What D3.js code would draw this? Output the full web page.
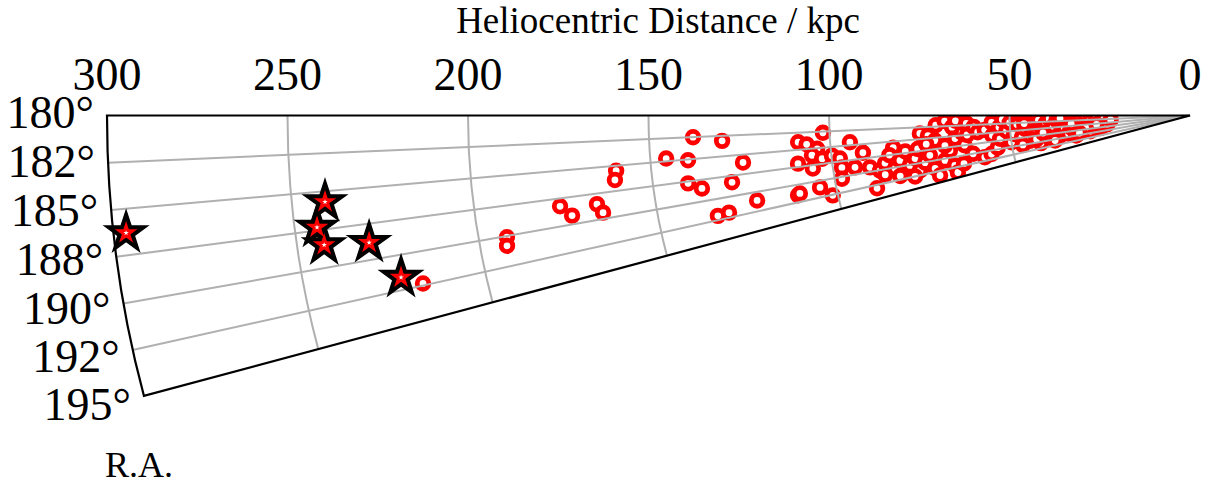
<!DOCTYPE html>
<html><head><meta charset="utf-8">
<script src="https://cdn.jsdelivr.net/npm/d3@7"></script>
<style>body{margin:0;background:#fff}svg{display:block}</style>
</head><body><svg id="c" width="1217" height="486"></svg>
<script>
// ---- data ----
const distTicks = [0, 50, 100, 150, 200, 250, 300];
const distTickLabels = ["0", "50", "100", "150", "200", "250", "300"];
const raTicks = [180, 182.5, 185, 187.5, 190, 192.5, 195];
const raTickLabels = ["180°", "182°", "185°", "188°", "190°", "192°", "195°"];
const distGrid = [50, 100, 150, 200, 250];
const raGrid = [182.5, 185, 187.5, 190, 192.5];

// red open circles: heliocentric distance (kpc) and R.A. (deg)
const circleDist = [217.5,192.2,192.6,176.3,173.4,166.1,164.8,159.7,160.3,137.8,129.8,145.6,139.6,124.5,140.3,136.7,128.2,122.2,133.7,130.5,
  108.8,109.4,110.8,101.8,103.7,105.3,105.5,102.6,99.8,97.7,94.5,91.2,97.5,93.9,89.8,98.0,110.2,104.4,101.4,89.0,82.7,106.5,
  87.2,85.5,83.0,81.3,80.5,78.8,77.1,76.3,74.5,72.9,72.1,71.2,69.0,67.2,66.6,66.2,75.0,72.8,71.0,68.4,65.4,63.3,61.6,
  84.0,79.5,82.0,78.0,86.0,76.0,73.5,70.5,68.0,66.0,
  65,64,63,62,62,61,60,59,58,57,56,55,55,54,53,53,52,51,
  50,50,49,48,48,47,46,45,45,44,44,43,42,42,41,40,40,39,39,38,37,37,36,
  35,35,34,34,33,32,32,31,30,30,29,28,28,27,26,25,25,24,23,22,
  47,43,38,33,29,26,46,41,36,31];
const circleRA = [192.35,190.1,190.8,188.2,189.2,188.5,189.4,185.5,186.4,182.5,183.1,184.7,185.1,186.0,187.7,188.5,188.3,191.1,192.0,191.9,
  183.9,187.0,191.5,182.7,185.1,186.0,188.0,186.7,186.4,187.0,184.5,186.5,188.5,188.8,189.2,190.3,191.3,191.0,192.6,193.1,186.2,184.3,
  190.1,188.9,190.2,188.8,191.3,190.1,188.9,191.5,190.1,188.7,191.7,193.5,190.4,188.3,192.0,193.8,183.8,184.4,185.6,187.0,185.6,184.3,183.4,
  187.5,187.2,191.8,192.5,191.0,187.0,186.2,182.2,181.3,182.8,
  181.3,192.0,187.5,182.0,185.0,190.0,183.0,184.5,191.5,184.0,191.0,182.0,185.8,189.5,187.0,183.5,181.2,184.8,
  188.5,182.3,186.0,181.5,183.0,187.5,184.5,182.0,189.0,183.5,185.8,187.0,181.8,190.5,185.0,183.0,188.2,181.3,186.3,184.5,182.0,189.5,187.0,
  183.0,185.5,181.5,188.5,186.0,190.0,184.0,182.8,185.0,187.5,181.8,183.5,189.0,186.5,181.5,188.0,184.5,182.5,186.0,183.0,
  190.0,188.8,190.5,184.0,186.5,185.5,182.8,186.8,181.2,189.0];

// star-marked objects
const starDist = [296.5, 240.8, 243.8, 242.5, 230.1, 223.1];
const starRA = [186.3, 185.7, 187.3, 188.5, 188.8, 191.6];

// ---- layout ----
const FONT = '"Liberation Serif", "DejaVu Serif", "Noto Serif", "Times New Roman", serif';
const svg = d3.select("#c");
const ox = 1190, oy = 115.5;
const rScale = d3.scaleLinear().domain([0, 300]).range([0, 1083]);
const aScale = d3.scaleLinear().domain([180, 195]).range([0, 15 * Math.PI / 180]);
const px = (d, ra) => ox - rScale(d) * Math.cos(aScale(ra));
const py = (d, ra) => oy + rScale(d) * Math.sin(aScale(ra));

function arcPath(R) {
  const p = d3.path();
  p.moveTo(ox - R, oy);
  p.arc(ox, oy, R, Math.PI, Math.PI - aScale(195), true);
  return p.toString();
}
function wedgePath() {
  const R = rScale(300);
  const p = d3.path();
  p.moveTo(ox, oy);
  p.lineTo(ox - R, oy);
  p.arc(ox, oy, R, Math.PI, Math.PI - aScale(195), true);
  p.closePath();
  return p.toString();
}

svg.append("clipPath").attr("id", "wedge").append("path").attr("d", wedgePath());

// circles
const pts = circleDist.map((d, i) => ({d, ra: circleRA[i]}));
svg.append("g").attr("clip-path", "url(#wedge)")
  .selectAll("circle").data(pts).join("circle")
  .attr("cx", p => px(p.d, p.ra)).attr("cy", p => py(p.d, p.ra))
  .attr("r", 5.8).attr("fill", "#fff").attr("stroke", "#ff0000").attr("stroke-width", 4.8);

// grid
const grid = svg.append("g").attr("fill", "none").attr("stroke", "#b0b0b0").attr("stroke-width", 2);
grid.selectAll("path.arc").data(distGrid).join("path").attr("class", "arc").attr("d", d => arcPath(rScale(d)));
grid.selectAll("line").data(raGrid).join("line")
  .attr("x1", ox).attr("y1", oy).attr("x2", ra => px(300, ra)).attr("y2", ra => py(300, ra));

// outline
svg.append("path").attr("d", wedgePath()).attr("fill", "none").attr("stroke", "#000").attr("stroke-width", 2.2).attr("stroke-linejoin", "miter");

// stars
const stars = starDist.map((d, i) => ({d, ra: starRA[i]}));
const sg = svg.append("g");
const big = d3.symbol().type(d3.symbolStar).size(560);
const small = d3.symbol().type(d3.symbolStar).size(60);
sg.selectAll("path.big").data(stars).join("path").attr("class", "big")
  .attr("transform", s => `translate(${px(s.d, s.ra)},${py(s.d, s.ra)})`)
  .attr("d", big()).attr("fill", "#000").attr("stroke", "#000").attr("stroke-width", 1.5);
sg.selectAll("path.small").data(stars).join("path").attr("class", "small")
  .attr("transform", s => `translate(${px(s.d, s.ra)},${py(s.d, s.ra)})`)
  .attr("d", small()).attr("fill", "#fff").attr("stroke", "#ff0000").attr("stroke-width", 2.8);

// distance tick labels
svg.append("g").selectAll("text").data(distTicks).join("text")
  .attr("x", d => px(d, 180)).attr("y", 90).attr("text-anchor", "middle")
  .style("font-family", FONT).attr("font-size", 46).text((d, i) => distTickLabels[i]);

// RA tick labels
svg.append("g").selectAll("text").data(raTicks).join("text")
  .attr("x", ra => px(300, ra) - 13)
  .attr("y", ra => py(300, ra) - 3 + (ra - 180) * 0.8 + 15.5)
  .attr("text-anchor", "end").style("font-family", FONT).attr("font-size", 46)
  .text((ra, i) => raTickLabels[i]);

// titles
svg.append("text").attr("x", 658).attr("y", 33).attr("text-anchor", "middle")
  .style("font-family", FONT).attr("font-size", 37)
  .text("Heliocentric Distance / kpc");
svg.append("text").attr("x", 105).attr("y", 477).style("font-family", FONT).attr("font-size", 36).text("R.A.");
</script></body></html>
